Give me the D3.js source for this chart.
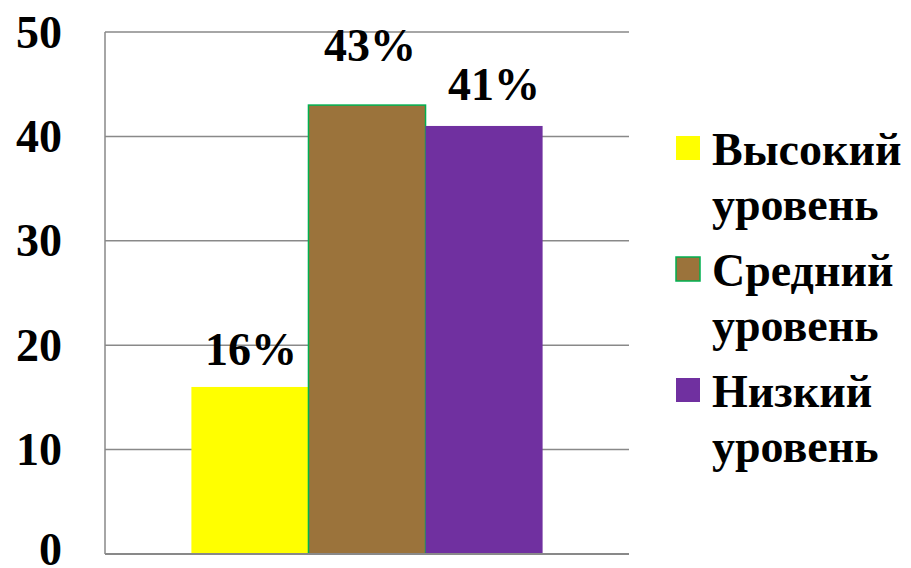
<!DOCTYPE html>
<html>
<head>
<meta charset="utf-8">
<script src="https://cdn.jsdelivr.net/npm/d3@7"></script>
</head>
<body style="margin:0">
<svg id="chart" width="911" height="568"></svg>
<script>
const categories = ["Высокий уровень", "Средний уровень", "Низкий уровень"];
const legendLines = [["Высокий", "уровень"], ["Средний", "уровень"], ["Низкий", "уровень"]];
const values = [16, 43, 41];
const valueLabels = ["16%", "43%", "41%"];
const colors = ["#ffff00", "#9b733b", "#7030a0"];
const strokes = [null, "#00b050", null];
const yTicks = [0, 10, 20, 30, 40, 50];

const FONT = "Liberation Serif";
const svg = d3.select("#chart");
const plot = { left: 105, right: 629, top: 32, bottom: 554 };

const y = d3.scaleLinear().domain([0, 50]).range([plot.bottom, plot.top]);
const group = d3.scaleBand().domain(["g"]).range([plot.left, plot.right]).paddingInner(0).paddingOuter(0.246);
const x = d3.scaleBand().domain(categories).range([group("g"), group("g") + group.bandwidth()]).padding(0);

// gridlines
svg.append("g").selectAll("line").data(yTicks.filter(d => d > 0)).join("line")
  .attr("x1", plot.left).attr("x2", plot.right)
  .attr("y1", d => y(d)).attr("y2", d => y(d))
  .attr("stroke", "#898989").attr("stroke-width", 1.5);

// bars
svg.append("g").selectAll("rect").data(values).join("rect")
  .attr("x", (d, i) => x(categories[i]))
  .attr("y", d => y(d))
  .attr("width", x.bandwidth())
  .attr("height", d => plot.bottom - y(d))
  .attr("fill", (d, i) => colors[i])
  .attr("stroke", (d, i) => strokes[i] || "none")
  .attr("stroke-width", 1.5);

// axis lines
svg.append("line").attr("x1", plot.left).attr("x2", plot.left).attr("y1", plot.top).attr("y2", plot.bottom)
  .attr("stroke", "#898989").attr("stroke-width", 1.5);
svg.append("line").attr("x1", plot.left).attr("x2", plot.right).attr("y1", plot.bottom).attr("y2", plot.bottom)
  .attr("stroke", "#898989").attr("stroke-width", 2);

// y axis labels
svg.append("g").selectAll("text").data(yTicks).join("text")
  .attr("x", 62).attr("y", d => Math.min(y(d) + 15.5, 565))
  .attr("text-anchor", "end")
  .attr("font-family", FONT).attr("font-weight", "bold").attr("font-size", 46)
  .text(d => d);

// value labels
const labelDy = [-22, -44, -26];
const labelDx = [1, 3, 10];
svg.append("g").selectAll("text").data(values).join("text")
  .attr("x", (d, i) => x(categories[i]) + x.bandwidth() / 2 + labelDx[i])
  .attr("y", (d, i) => y(d) + labelDy[i])
  .attr("text-anchor", "middle")
  .attr("font-family", FONT).attr("font-weight", "bold").attr("font-size", 46)
  .text((d, i) => valueLabels[i]);

// legend
const leg = svg.append("g").attr("transform", "translate(676,136)");
const items = leg.selectAll("g").data(categories).join("g")
  .attr("transform", (d, i) => `translate(0,${i * 121})`);
items.append("rect").attr("width", 24).attr("height", 24)
  .attr("fill", (d, i) => colors[i])
  .attr("stroke", (d, i) => strokes[i] || "none").attr("stroke-width", 1.5);
items.each(function(d, i) {
  const t = d3.select(this).append("text")
    .attr("font-family", FONT).attr("font-weight", "bold").attr("font-size", 46);
  legendLines[i].forEach((ln, j) => {
    t.append("tspan").attr("x", 36).attr("y", 29 + j * 55).text(ln);
  });
});
</script>
</body>
</html>
